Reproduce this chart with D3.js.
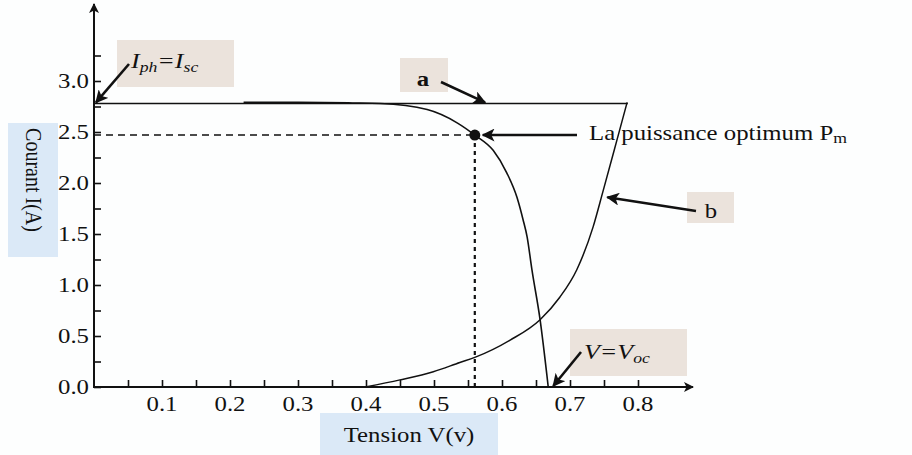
<!DOCTYPE html>
<html>
<head>
<meta charset="utf-8">
<script src="https://cdn.jsdelivr.net/npm/d3@7"></script>
<style>
  html, body { margin: 0; padding: 0; background: #fdfefe; }
  svg { display: block; }
  text { font-family: "Liberation Serif", "DejaVu Serif", serif; fill: #111; }
</style>
</head>
<body>
<svg id="chart" width="912" height="455"></svg>
<script>
// ---- data ----
const xTickValues = [0.1, 0.2, 0.3, 0.4, 0.5, 0.6, 0.7, 0.8];
const xTickLabels = ["0.1", "0.2", "0.3", "0.4", "0.5", "0.6", "0.7", "0.8"];
const yTickValues = [0.0, 0.5, 1.0, 1.5, 2.0, 2.5, 3.0];
const yTickLabels = ["0.0", "0.5", "1.0", "1.5", "2.0", "2.5", "3.0"];

// short-circuit current level (line a)
const iscLevel = 2.78;
const lineAEndV = 0.785;

// I-V characteristic of the cell
const ivVoltage = [0.22, 0.30, 0.38, 0.421, 0.49, 0.534, 0.56, 0.587, 0.607, 0.622, 0.631, 0.637, 0.644, 0.656, 0.668];
const ivCurrent = [2.79, 2.79, 2.785, 2.78, 2.72, 2.59, 2.47, 2.32, 2.10, 1.86, 1.64, 1.47, 1.15, 0.66, 0.0];

// curve b
const bVoltage = [0.399, 0.45, 0.499, 0.538, 0.56, 0.612, 0.656, 0.685, 0.71, 0.734, 0.749, 0.769, 0.784];
const bCurrent = [0.0, 0.07, 0.15, 0.24, 0.29, 0.46, 0.66, 0.88, 1.15, 1.57, 1.93, 2.42, 2.79];

// maximum power point and open-circuit voltage
const pmV = 0.56, pmI = 2.47;
const vocV = 0.668;

// ---- layout ----
const svg = d3.select("#chart");
const X0 = 94, Y0 = 387;
const x = d3.scaleLinear().domain([0, 0.8]).range([X0, X0 + 544]);
const y = d3.scaleLinear().domain([0, 3]).range([Y0, Y0 - 306]);
const SX = 1.18; // horizontal stretch of the lettering
const INK = "#111";

const defs = svg.append("defs");
defs.append("marker").attr("id", "head")
  .attr("viewBox", "0 0 10 10").attr("refX", 9).attr("refY", 5)
  .attr("markerWidth", 5).attr("markerHeight", 5).attr("orient", "auto")
  .attr("markerUnits", "strokeWidth")
  .append("path").attr("d", "M0,0 L10,5 L0,10 L2.5,5 Z").attr("fill", INK);

function text(x0, y0, anchor, size, build) {
  const g = svg.append("g").attr("transform", `translate(${x0},${y0}) scale(${SX},1)`);
  const t = g.append("text").attr("text-anchor", anchor).attr("font-size", size);
  build(t);
  return g;
}

// ---- label boxes ----
svg.append("rect").attr("x", 8).attr("y", 123).attr("width", 50).attr("height", 134).attr("fill", "#dbe9f7");
svg.append("rect").attr("x", 320).attr("y", 413).attr("width", 178).attr("height", 42).attr("fill", "#dbe9f7");
svg.append("rect").attr("x", 117).attr("y", 40).attr("width", 117).attr("height", 47).attr("fill", "#ebe3dc");
svg.append("rect").attr("x", 400).attr("y", 58).attr("width", 48).attr("height", 34).attr("fill", "#ebe3dc");
svg.append("rect").attr("x", 687).attr("y", 192).attr("width", 47).attr("height", 31).attr("fill", "#ebe3dc");
svg.append("rect").attr("x", 570).attr("y", 329).attr("width", 117).attr("height", 47).attr("fill", "#ebe3dc");

// ---- axes ----
const yAxis = d3.axisLeft(y).tickValues(d3.range(0, 3.26, 0.25)).tickSize(-7).tickFormat("");
const yg = svg.append("g").attr("transform", `translate(${X0},0)`).call(yAxis);
const xAxis = d3.axisBottom(x).tickValues(d3.range(0.05, 0.801, 0.05)).tickSize(-7).tickFormat("");
const xg = svg.append("g").attr("transform", `translate(0,${Y0})`).call(xAxis);
[yg, xg].forEach(g => {
  g.select(".domain").remove();
  g.selectAll(".tick line").attr("stroke", INK).attr("stroke-width", 1.6);
});

// axis lines with arrowheads
svg.append("line").attr("x1", X0).attr("y1", Y0 + 1).attr("x2", X0).attr("y2", 4)
  .attr("stroke", INK).attr("stroke-width", 2).attr("marker-end", "url(#head)");
svg.append("line").attr("x1", X0 - 1).attr("y1", Y0).attr("x2", 693).attr("y2", Y0)
  .attr("stroke", INK).attr("stroke-width", 2).attr("marker-end", "url(#head)");

// tick labels
yTickValues.forEach((v, i) => text(89, y(v) + 7, "end", 21, t => t.text(yTickLabels[i])));
xTickValues.forEach((v, i) => text(x(v), 411, "middle", 21, t => t.text(xTickLabels[i])));

// axis titles
svg.append("g").attr("transform", `translate(26,180) scale(${SX},1) rotate(90)`)
  .append("text").attr("text-anchor", "middle").attr("font-size", 20).text("Courant I(A)");
text(409, 442, "middle", 21, t => t.text("Tension V(v)"));

// ---- curves ----
const line = d3.line().x(d => x(d[0])).y(d => y(d[1])).curve(d3.curveMonotoneX);

// line a
svg.append("path").datum([[0, iscLevel], [lineAEndV, iscLevel]]).attr("d", line)
  .attr("fill", "none").attr("stroke", INK).attr("stroke-width", 1.5);

// I-V curve
svg.append("path").datum(d3.zip(ivVoltage, ivCurrent)).attr("d", line)
  .attr("fill", "none").attr("stroke", INK).attr("stroke-width", 1.6);

// curve b
svg.append("path").datum(d3.zip(bVoltage, bCurrent)).attr("d", line)
  .attr("fill", "none").attr("stroke", INK).attr("stroke-width", 1.5);

// guides to the maximum power point
svg.append("line").attr("x1", x(0)).attr("x2", x(pmV)).attr("y1", y(pmI)).attr("y2", y(pmI))
  .attr("stroke", INK).attr("stroke-width", 1.4).attr("stroke-dasharray", "7,5");
svg.append("line").attr("x1", x(pmV)).attr("x2", x(pmV)).attr("y1", y(pmI)).attr("y2", y(0))
  .attr("stroke", INK).attr("stroke-width", 2.2).attr("stroke-dasharray", "4,4");
svg.append("circle").attr("cx", x(pmV)).attr("cy", y(pmI)).attr("r", 5.5).attr("fill", INK);

// ---- annotation arrows ----
function arrow(x1, y1, x2, y2) {
  svg.append("line").attr("x1", x1).attr("y1", y1).attr("x2", x2).attr("y2", y2)
    .attr("stroke", INK).attr("stroke-width", 2.6).attr("marker-end", "url(#head)");
}
arrow(129, 64, x(0) + 2, y(iscLevel) - 1);
arrow(441, 82, x(0.575), y(iscLevel) - 1);
arrow(577, y(pmI), x(pmV) + 8, y(pmI));
arrow(696, 211, x(0.752) + 2, y(1.86));
arrow(581, 352, x(vocV) + 5, y(0) - 1);

// ---- annotation texts ----
text(131, 68, "start", 22, t => {
  t.attr("font-style", "italic");
  t.append("tspan").text("I");
  t.append("tspan").attr("font-size", 15).attr("dy", 4).text("ph");
  t.append("tspan").attr("dy", -4).text("=I");
  t.append("tspan").attr("font-size", 15).attr("dy", 4).text("sc");
});
text(423, 86, "middle", 21, t => t.attr("font-weight", "bold").text("a"));
text(711, 218, "middle", 21, t => t.text("b"));
text(584, 359, "start", 22, t => {
  t.attr("font-style", "italic");
  t.append("tspan").text("V=V");
  t.append("tspan").attr("font-size", 15).attr("dy", 4).text("oc");
});
text(589, 140, "start", 21, t => {
  t.append("tspan").text("La puissance optimum P");
  t.append("tspan").attr("font-size", 15).attr("dy", 3).text("m");
});
</script>
</body>
</html>
